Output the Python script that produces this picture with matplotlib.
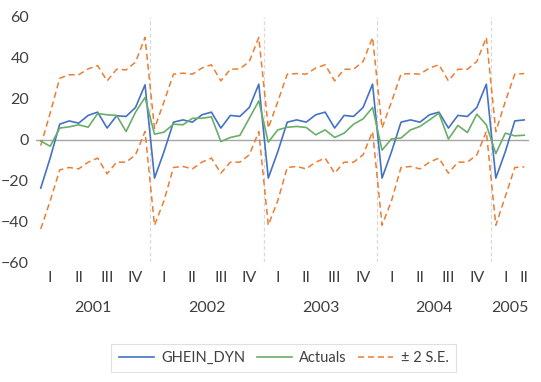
import numpy as np
import pandas as pd
import matplotlib
matplotlib.use("Agg")
import matplotlib.pyplot as plt
import matplotlib.transforms as mtransforms

# monthly categories Jan 2001 .. Apr 2005
months = pd.period_range("2001-01", "2005-04", freq="M")
quarter_names = ["I", "II", "III", "IV"]

ghein_dyn = [
    -23.8, -9.0, 7.5, 9.1, 8.0, 11.8, 13.4, 5.6, 11.6, 11.3, 15.7, 26.8,
    -18.9, -6.0, 8.5, 9.6, 8.5, 12.1, 13.4, 5.6, 11.8, 11.3, 15.7, 27.1,
    -18.9, -6.0, 8.5, 9.6, 8.5, 12.1, 13.4, 5.6, 11.8, 11.3, 15.7, 27.1,
    -18.9, -6.0, 8.5, 9.6, 8.5, 12.1, 13.4, 5.6, 11.8, 11.3, 15.7, 27.1,
    -18.9, -6.0, 9.1, 9.6,
]
actuals = [
    -0.8, -3.3, 5.6, 6.2, 7.2, 6.0, 12.7, 12.1, 11.8, 3.9, 13.4, 20.6,
    2.6, 3.6, 7.5, 7.2, 10.4, 10.4, 11.1, -1.0, 1.0, 2.0, 10.4, 18.9,
    -1.3, 4.7, 6.0, 6.4, 5.9, 2.3, 4.7, 1.0, 3.1, 7.5, 10.1, 15.7,
    -5.2, 0.3, 0.7, 4.7, 6.4, 9.6, 12.9, 0.2, 6.9, 3.4, 12.4, 7.2,
    -6.9, 3.1, 1.8, 2.1,
]
upper_se = [
    -3.0, 13.0, 30.0, 31.7, 31.7, 34.6, 36.2, 28.7, 34.4, 34.1, 37.9, 50.0,
    5.4, 18.5, 32.0, 32.5, 32.0, 35.0, 36.6, 28.7, 34.4, 34.6, 38.2, 50.0,
    5.6, 18.5, 32.0, 32.3, 32.0, 35.0, 36.6, 28.7, 34.4, 34.4, 38.2, 50.0,
    5.6, 18.5, 32.0, 32.3, 32.0, 35.0, 36.6, 28.7, 34.4, 34.4, 38.2, 50.0,
    3.9, 18.6, 32.0, 32.3,
]
lower_se = [
    -43.8, -30.0, -14.9, -13.7, -14.4, -11.1, -9.1, -16.8, -11.1, -11.1, -7.5, 3.9,
    -42.0, -30.0, -13.7, -13.2, -14.4, -11.1, -9.1, -16.5, -11.1, -11.1, -7.5, 3.9,
    -42.0, -30.0, -13.7, -13.2, -14.4, -11.1, -9.1, -16.5, -11.1, -11.1, -7.5, 3.9,
    -42.0, -30.0, -13.7, -13.2, -14.4, -11.1, -9.1, -16.5, -11.1, -11.1, -7.5, 3.9,
    -42.0, -28.0, -13.7, -13.4,
]

text_col = "#404040"
plt.rcParams["font.family"] = ["Lato", "DejaVu Sans"]
plt.rcParams["font.size"] = 11

fig = plt.figure(figsize=(5.41, 3.82), dpi=100)
ax = fig.add_axes([36 / 541, 1 - 262 / 382, (529 - 36) / 541, (262 - 17) / 382])

x = np.arange(len(months))
years = np.array([p.year for p in months])
quarters = np.array([p.quarter for p in months])

# year separators
for b in np.where(np.diff(years) != 0)[0]:
    ax.axvline(b + 0.5, color="#D9D9D9", lw=0.9, ls=(0, (3, 2)), zorder=0)
ax.axhline(0, color="#A6A6A6", lw=1.0, zorder=1)

ax.plot(x, ghein_dyn, color="#4472C4", lw=1.2, label="GHEIN_DYN", zorder=3)
ax.plot(x, actuals, color="#6AAE6A", lw=1.2, label="Actuals", zorder=3)
ax.plot(x, upper_se, color="#ED7D31", lw=1.1, ls=(0, (4, 2.5)), label="\u00b1 2 S.E.", zorder=2)
ax.plot(x, lower_se, color="#ED7D31", lw=1.1, ls=(0, (4, 2.5)), zorder=2)

ax.set_xlim(-0.5, len(months) - 0.5)
ax.set_ylim(-60, 60)
ax.set_yticks(range(-60, 61, 20))
ax.set_xticks([])
ax.tick_params(axis="y", length=0, pad=5, colors=text_col, labelsize=11.5)
for s in ax.spines.values():
    s.set_visible(False)

# multi-level category labels: quarters then years
trans = mtransforms.blended_transform_factory(ax.transData, ax.transAxes)
for yr in np.unique(years):
    for q in np.unique(quarters[years == yr]):
        idx = x[(years == yr) & (quarters == q)]
        ax.text(idx.mean(), -0.067, quarter_names[q - 1], transform=trans,
                ha="center", va="center", color=text_col, fontsize=11.5)
    idx = x[years == yr]
    ax.text(idx.mean(), -0.188, str(yr), transform=trans,
            ha="center", va="center", color=text_col, fontsize=11.5)

leg = fig.legend(loc="center", bbox_to_anchor=(283.5 / 541, 1 - 358 / 382), ncol=3,
                 frameon=True, fancybox=False, edgecolor="#D9D9D9",
                 handlelength=2.4, handletextpad=0.5, columnspacing=0.8,
                 borderpad=0.5, fontsize=10.5)
leg.get_frame().set_linewidth(0.8)
for t in leg.get_texts():
    t.set_color(text_col)

fig.savefig("out.png", dpi=100)
